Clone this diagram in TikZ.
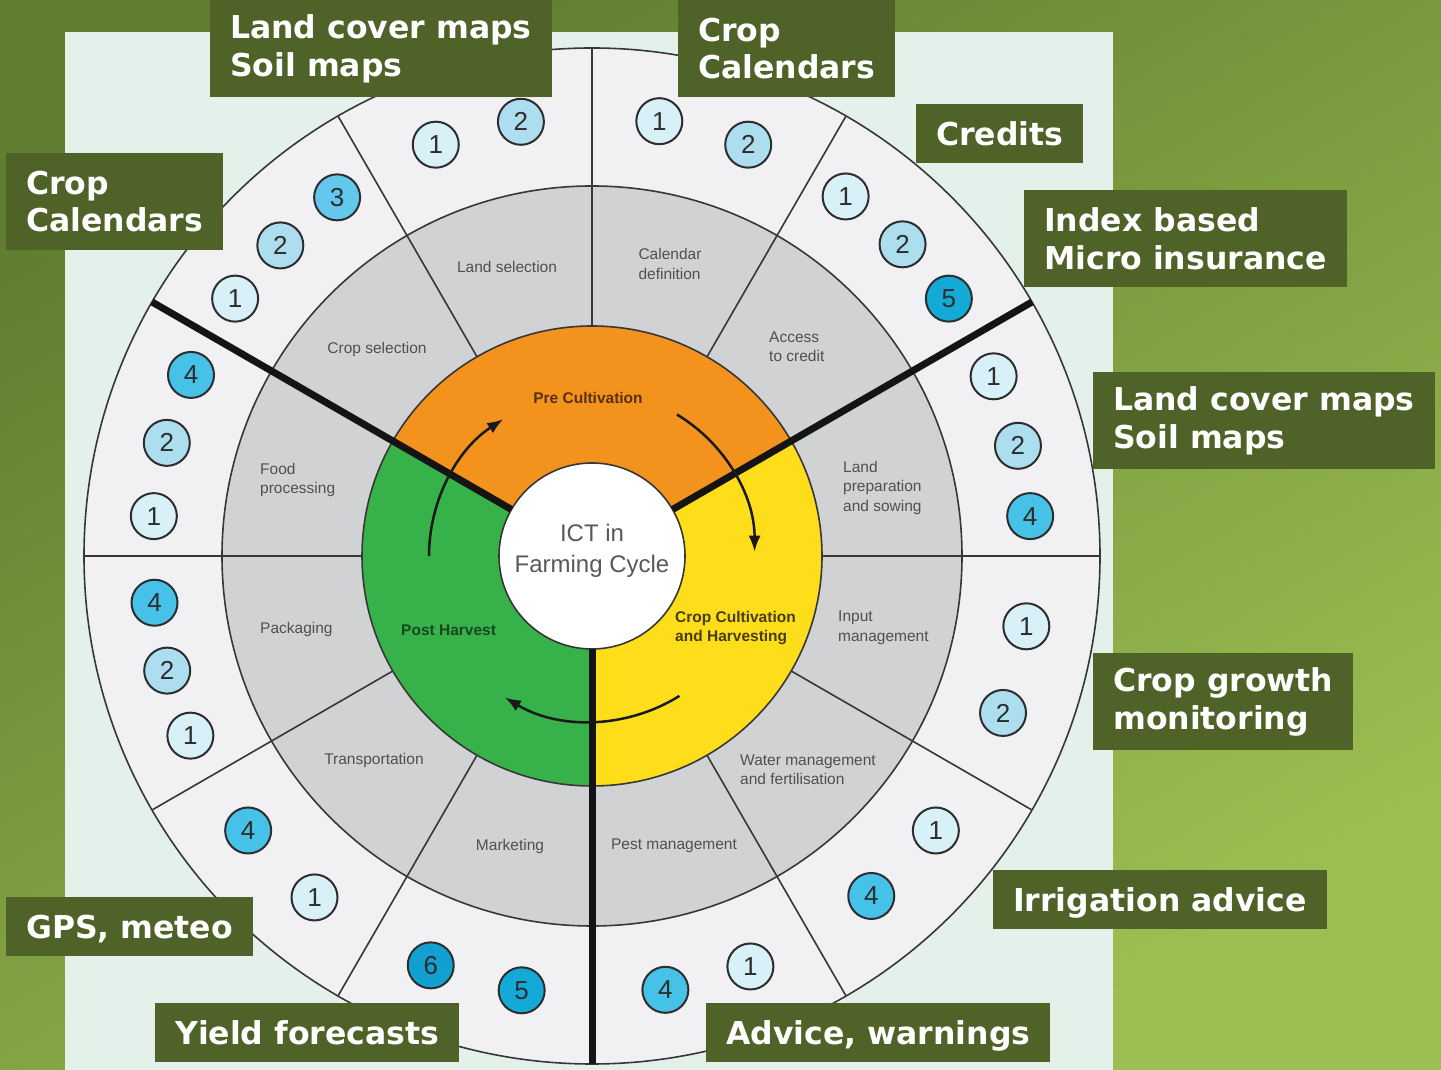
\documentclass[tikz,border=0pt]{standalone}
\usepackage{fontspec}
\usetikzlibrary{arrows.meta}
\newfontfamily\boxfont{DejaVu Sans}
\newfontfamily\ringfont{Liberation Sans}

% palette
\definecolor{bgTop}{RGB}{96,126,48}
\definecolor{bgBot}{RGB}{156,191,82}
\definecolor{panel}{RGB}{227,241,234}
\definecolor{boxgreen}{RGB}{79,98,40}
\definecolor{outerring}{RGB}{241,241,244}
\definecolor{grayring}{RGB}{209,210,212}
\definecolor{ringline}{RGB}{55,55,55}
\definecolor{phorange}{RGB}{244,146,30}
\definecolor{phyellow}{RGB}{254,221,26}
\definecolor{phgreen}{RGB}{55,177,74}
\definecolor{segtxt}{RGB}{80,80,82}
\definecolor{ctrtxt}{RGB}{88,89,91}
\definecolor{pretxt}{RGB}{85,50,15}
\definecolor{cultxt}{RGB}{70,62,15}
\definecolor{posttxt}{RGB}{25,72,30}
\definecolor{numtxt}{RGB}{45,45,45}
\definecolor{cA}{RGB}{216,240,248}
\definecolor{cB}{RGB}{172,222,240}
\definecolor{cC}{RGB}{100,200,236}
\definecolor{cD}{RGB}{70,193,232}
\definecolor{cE}{RGB}{20,170,216}
\definecolor{cF}{RGB}{18,160,208}

\tikzset{
  lbl/.style={fill=boxgreen, text=white, anchor=north west, align=left,
    font=\boxfont\bfseries\fontsize{31.5}{37.5}\selectfont,
    inner xsep=20pt, inner ysep=0pt},
  oneline/.style={minimum height=59pt, text height=23pt, text depth=0pt},
  twoline/.style={minimum height=97pt},
  seg/.style={text=segtxt, align=left, inner sep=0pt,
    font=\ringfont\fontsize{15.5}{19.5}\selectfont},
  phase/.style={align=left, inner sep=0pt,
    font=\ringfont\bfseries\fontsize{15.5}{19.5}\selectfont},
  numdot/.style={circle, draw=numtxt, line width=2pt, minimum size=46pt,
    inner sep=0pt, text=numtxt, font=\ringfont\fontsize{26}{26}\selectfont},
  thinline/.style={draw=ringline, line width=1.6pt},
  phaseline/.style={draw=black!92, line width=7pt},
  cyclearrow/.style={draw=black!90, line width=2.5pt,
    -{Latex[length=16pt,width=12pt]}}
}

\begin{document}
\begin{tikzpicture}[x=1pt,y=1pt]
\useasboundingbox (0,0) rectangle (1441,1070);

% backdrop and pale panel
\shade[top color=bgTop, bottom color=bgBot, shading angle=30]
  (0,0) rectangle (1441,1070);
\fill[panel] (65,0) rectangle (1113,1038);

% the cycle wheel
\begin{scope}[shift={(592,514)}]
  \filldraw[fill=outerring, thinline] (0,0) circle[radius=508];
  \filldraw[fill=grayring, thinline] (0,0) circle[radius=370];
  \fill[phorange] (0,0) -- (30:230) arc[start angle=30, end angle=150, radius=230] -- cycle;
  \fill[phyellow] (0,0) -- (-90:230) arc[start angle=-90, end angle=30, radius=230] -- cycle;
  \fill[phgreen] (0,0) -- (150:230) arc[start angle=150, end angle=270, radius=230] -- cycle;
  \draw[thinline] (0,0) circle[radius=230];
  \foreach \a in {0,60,90,120,180,210,240,300,330}
    \draw[thinline] (\a:230) -- (\a:508);
  \filldraw[fill=white, thinline] (0,0) circle[radius=93];
  \foreach \a in {30,150,270}
    \draw[phaseline] (\a:93) -- (\a:508);

  % direction of the cycle
  \draw[cyclearrow] (180:163) arc[start angle=180, end angle=123, radius=163];
  \draw[cyclearrow] (59:165) arc[start angle=59, end angle=0, radius=160];
  \draw[cyclearrow] (-58:165) arc[start angle=-58, end angle=-121, radius=167];

  % numbered data sources in the outer ring
  \foreach \a/\n/\c [count=\i] in {
      144.2/1/cA, 135.1/2/cB, 125.4/3/cC,
      110.8/1/cA, 99.3/2/cB,
      81.2/1/cA, 69.2/2/cB,
      54.8/1/cA, 45.1/2/cB, 35.8/5/cE,
      24.1/1/cA, 14.5/2/cB, 5.2/4/cD,
      -9.2/1/cA, -20.9/2/cB,
      -38.6/1/cA, -50.6/4/cD,
      -68.9/1/cA, -80.4/4/cD,
      -99.2/5/cE, -111.5/6/cF,
      -129.1/1/cA, -141.4/4/cD,
      -155.9/1/cA, -164.9/2/cB, -173.9/4/cD,
      174.8/1/cA, 165.1/2/cB, 155.7/4/cD}
    \node[numdot, fill=\c] (dot\i) at (\a:440) {\n};
\end{scope}

% centre
\node[align=center, text=ctrtxt, inner sep=0pt,
  font=\ringfont\fontsize{24}{31}\selectfont] (centre) at (592,519)
  {ICT in\\Farming Cycle};

% phases
\node[phase, text=pretxt] (pre) at (588,672) {Pre Cultivation};
\node[phase, text=cultxt, anchor=west] (cult) at (675,442) {Crop Cultivation\\and Harvesting};
\node[phase, text=posttxt, anchor=west] (post) at (401,440) {Post Harvest};

% activities
\node[seg] (s1) at (507,803) {Land selection};
\node[seg] (s2) at (670,806) {Calendar\\definition};
\node[seg, anchor=west] (s3) at (769,723) {Access\\to credit};
\node[seg, anchor=west] (s4) at (843,582) {Land\\preparation\\and sowing};
\node[seg, anchor=west] (s5) at (838,442) {Input\\management};
\node[seg, anchor=west] (s6) at (740,300) {Water management\\and fertilisation};
\node[seg] (s7) at (674,224) {Pest management};
\node[seg] (s8) at (510,224) {Marketing};
\node[seg] (s9) at (374,309) {Transportation};
\node[seg, anchor=west] (s10) at (260,440) {Packaging};
\node[seg, anchor=west] (s11) at (260,590) {Food\\processing};
\node[seg] (s12) at (377,720) {Crop selection};

% ICT services
\node[lbl, twoline] (landA) at (210,1070) {Land cover maps\\Soil maps};
\node[lbl, twoline] (calA) at (678,1070) {Crop\\Calendars};
\node[lbl, oneline] (credit) at (916,966) {Credits};
\node[lbl, twoline] (insur) at (1024,880) {Index based\\Micro insurance};
\node[lbl, twoline] (landB) at (1093,698) {Land cover maps\\Soil maps};
\node[lbl, twoline] (growth) at (1093,417) {Crop growth\\monitoring};
\node[lbl, oneline] (irrig) at (993,200) {Irrigation advice};
\node[lbl, oneline] (advice) at (706,67) {Advice, warnings};
\node[lbl, oneline] (yield) at (155,67) {Yield forecasts};
\node[lbl, oneline] (gps) at (6,173) {GPS, meteo};
\node[lbl, twoline] (calB) at (6,917) {Crop\\Calendars};
\end{tikzpicture}
\end{document}
